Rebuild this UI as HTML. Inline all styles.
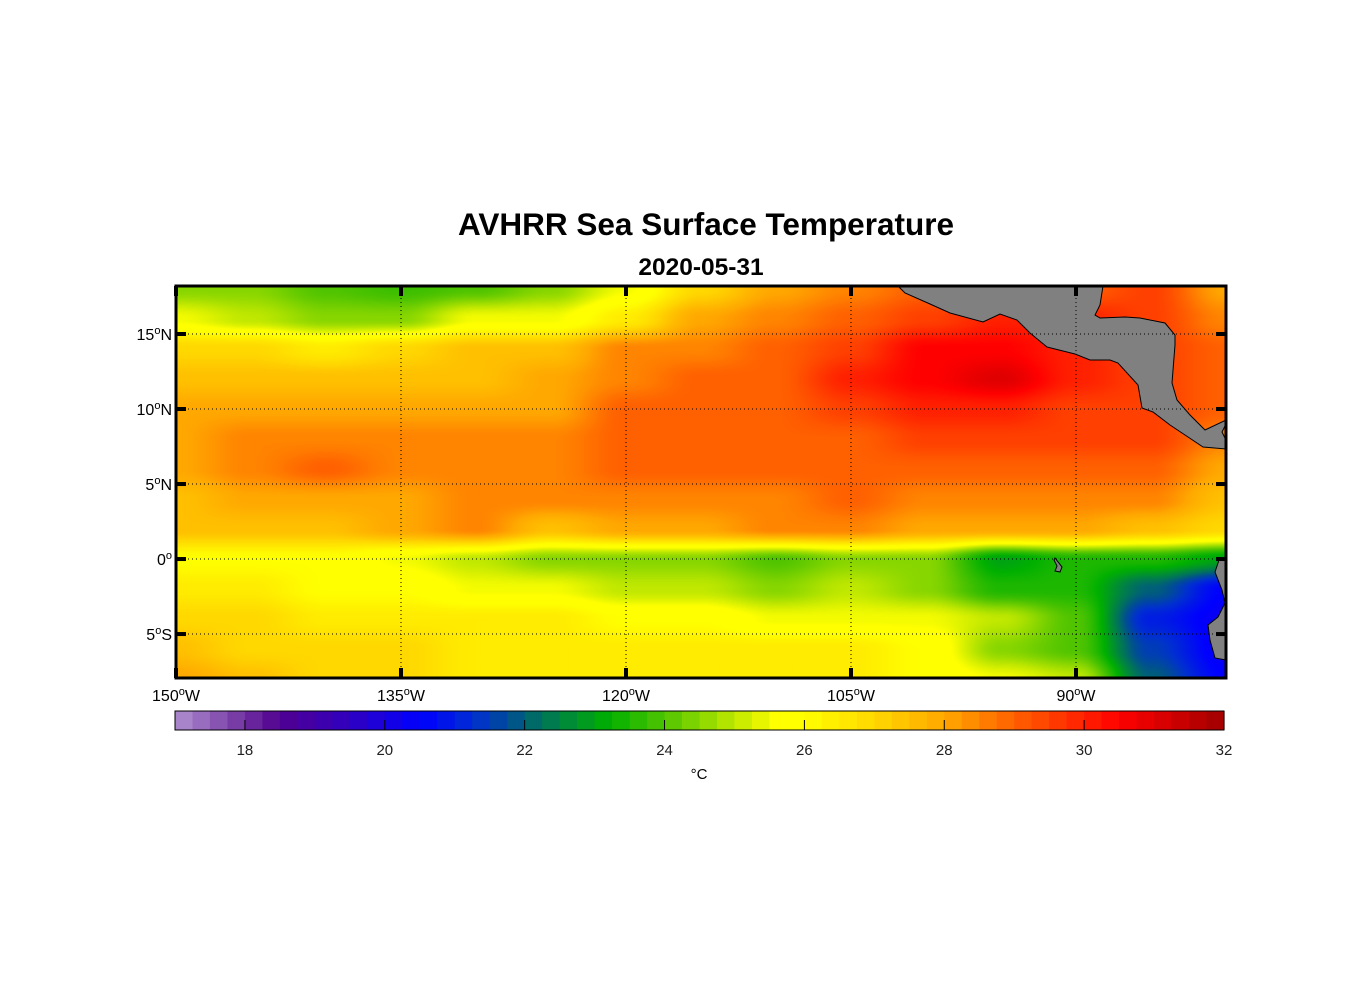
<!DOCTYPE html>
<html><head><meta charset="utf-8">
<style>
html,body{margin:0;padding:0;background:#fff;}
body{width:1356px;height:1000px;position:relative;overflow:hidden;font-family:"Liberation Sans",Arial,sans-serif;}
svg text{font-family:"Liberation Sans",Arial,sans-serif;}
</style></head>
<body>
<svg id="fig" width="1356" height="1000" viewBox="0 0 1356 1000" xmlns="http://www.w3.org/2000/svg">
  <text x="706" y="235" text-anchor="middle" font-size="31.5" font-weight="bold">AVHRR Sea Surface Temperature</text>
  <text x="701" y="275" text-anchor="middle" font-size="24.5" font-weight="bold">2020-05-31</text>
  <foreignObject x="176" y="286" width="1050" height="392"><canvas xmlns="http://www.w3.org/1999/xhtml" id="map" width="1050" height="392" style="display:block"></canvas></foreignObject>
  <g id="land">
    <path fill="#808080" stroke="#000" stroke-width="1" d="M898,286 L905,293 L930,304 L950,313 L983,322 L1000,314 L1017,320 L1030,333 L1047,347 L1075,354 L1090,360 L1110,360 L1118,363 L1138,385 L1142,408 L1153,412 L1170,425 L1188,437 L1203,447 L1226,449 L1226,440 L1222,432 L1226,424 L1226,420 L1205,430 L1190,415 L1177,400 L1172,383 L1175,345 L1175,335 L1165,323 L1140,318 L1125,317 L1100,318 L1095,315 L1100,305 L1103,286 Z"/>
    <path fill="#808080" stroke="#000" stroke-width="1" d="M1226,560 L1219,560 L1215,572 L1222,590 L1225,603 L1218,617 L1208,625 L1210,640 L1215,658 L1226,660 Z"/>
    <path fill="#808080" stroke="#000" stroke-width="1" d="M1055,558 L1062,567 L1060,572 L1055,571 L1057,566 L1054,560 Z"/>
  </g>
  <g id="grid" stroke="#000" stroke-width="1" stroke-dasharray="1,3"></g>
  <rect x="176" y="286" width="1050" height="392" fill="none" stroke="#000" stroke-width="3"/>
  <g id="ticks"></g>
  <g id="cbar"></g>
  <text x="699" y="779" text-anchor="middle" font-size="15">°C</text>
</svg>
<script>
// ---- data ----
const lats = [18,16,14,12,10,8,6,4,2,0,-2,-4,-6,-8];
const lons = [-150,-145,-140,-135,-130,-125,-120,-115,-110,-105,-100,-95,-90,-85,-80];
const sst18 = [24.5,24.5,24,23.8,24,24.5,25.5,27,28,28.5,29,29,29,29.5,28];
const sst16 = [25.5,25,24.5,24.5,25.5,25.5,26.5,28,28.5,29,29.5,30,30,29.5,28.5];
const sst14 = [27,27,26.5,27,27.5,27.5,28.5,28.5,29,29.5,30.5,30.5,30,29.5,29];
const sst12 = [27.5,27.5,27.5,27.5,27.5,28,28.5,29,29,30,30.5,31,30,29.5,29];
const sst10 = [28,28,28,28,28,28,29,29,29,29.5,30,30,29.5,29.5,29];
const sst8 = [28,28.5,28.5,28.5,28.5,28.5,29,29,29,29,29.5,29.5,29.5,29.5,28.5];
const sst6 = [28,28.5,29,28.5,28.5,28.5,29,29,29,29,29,29,29,29,28];
const sst4 = [27.5,28,28,28,28.5,28.5,28.5,28.5,28.5,29,28.5,28.5,28.5,28.5,27.5];
const sst2 = [27.5,27.5,27.5,28,28.5,27.5,28,28,28.5,28.5,28,28,28,27.5,27];
const sst0 = [26,26,26,25.5,25,24.5,24.5,24.5,24,24.5,24.5,23,23.5,23.5,23];
const sstS2 = [26.5,26.5,26,26,25.5,25.5,25,25,24.5,25,24.5,23.5,23.5,22,20.5];
const sstS4 = [27,27,26.5,26.5,26.5,26.5,26,26,25.5,25.5,25.5,25,24,21,20.3];
const sstS6 = [27.5,27,27,27,26.5,26.5,26.5,26.5,26.5,26.5,26,24.5,24,21.5,20.3];
const sstS8 = [28,27.5,27,27,26.5,26.5,26.5,26.5,26.5,26.5,26,25.5,25,22,20.5];
const sstRows = [sst18,sst16,sst14,sst12,sst10,sst8,sst6,sst4,sst2,sst0,sstS2,sstS4,sstS6,sstS8];
const lonTickVals = [-150,-135,-120,-105,-90];
const lonTickLabels = ["150","135","120","105","90"];
const latTickVals = [15,10,5,0,-5];
const latTickLabels = ["15","10","5","0","5"];
const latTickHemi = ["N","N","N","","S"];
const cbarTicks = [18,20,22,24,26,28,30,32];
// colormap stops
const cmapVals = [17,18,18.5,19.5,20.5,21.3,21.8,22.2,22.7,23.2,24,25,25.6,26,27,28,29,30,30.5,31,32];
const cmapCols = ["#b090d0","#7030a0","#500090","#3000c0","#0000ff","#0030d0","#005090","#007060","#009030","#00b000","#50c400","#c0e800","#ffff00","#ffff00","#ffd800","#ffa800","#ff6000","#ff2000","#ff0000","#e00000","#a00000"];

// ---- axes ----
const X0=176,X1=1226,Y0=286,Y1=678, LON0=-150, LON1=-80, LAT0=18.2, LAT1=-7.93;
const xScale = lon => X0 + (lon-LON0)/(LON1-LON0)*(X1-X0);
const yScale = lat => Y0 + (LAT0-lat)/(LAT0-LAT1)*(Y1-Y0);
const C0=175,C1=1224,V0=17,V1=32;
const cScale = v => C0 + (v-V0)/(V1-V0)*(C1-C0);

function hex(h){return [parseInt(h.substr(1,2),16),parseInt(h.substr(3,2),16),parseInt(h.substr(5,2),16)];}
const cmapRGB = cmapCols.map(hex);
function colorOf(v){
  if(v<=cmapVals[0]) return cmapRGB[0];
  for(let i=1;i<cmapVals.length;i++){
    if(v<=cmapVals[i]){const t=(v-cmapVals[i-1])/(cmapVals[i]-cmapVals[i-1]);const a=cmapRGB[i-1],b=cmapRGB[i];
      return [a[0]+(b[0]-a[0])*t,a[1]+(b[1]-a[1])*t,a[2]+(b[2]-a[2])*t];}
  }
  return cmapRGB[cmapRGB.length-1];
}
function sample(lon,lat){
  let fx=(lon-lons[0])/(lons[1]-lons[0]); fx=Math.max(0,Math.min(lons.length-1.001,fx));
  let fy=(lats[0]-lat)/(lats[0]-lats[1]); fy=Math.max(0,Math.min(lats.length-1.001,fy));
  const i=Math.floor(fx),j=Math.floor(fy),tx=fx-i,ty=fy-j;
  const s=t=>t*t*(3-2*t);
  const a=sstRows[j][i],b=sstRows[j][i+1],c=sstRows[j+1][i],d=sstRows[j+1][i+1];
  const u=s(tx),w=s(ty);
  return (a*(1-u)+b*u)*(1-w)+(c*(1-u)+d*u)*w;
}
// heatmap
const cv=document.getElementById('map'),ctx=cv.getContext('2d');
const W=cv.width,H=cv.height,img=ctx.createImageData(W,H);
for(let py=0;py<H;py++){
  const lat=LAT0-(py+0.5)/(Y1-Y0)*(LAT0-LAT1);
  for(let px=0;px<W;px++){
    const lon=LON0+(px+0.5)/(X1-X0)*(LON1-LON0);
    const c=colorOf(sample(lon,lat));const k=(py*W+px)*4;
    img.data[k]=c[0];img.data[k+1]=c[1];img.data[k+2]=c[2];img.data[k+3]=255;
  }
}
ctx.putImageData(img,0,0);

const NS='http://www.w3.org/2000/svg';
function mk(tag,attrs,parent){const e=document.createElementNS(NS,tag);for(const k in attrs)e.setAttribute(k,attrs[k]);parent.appendChild(e);return e;}
const grid=document.getElementById('grid'),ticks=document.getElementById('ticks'),fig=document.getElementById('fig');
lonTickVals.forEach((v,i)=>{
  const x=xScale(v);
  if(i>0){const g=mk('line',{x1:x,y1:Y0,x2:x,y2:Y1},grid);
    
    }
  const t1=mk('line',{x1:x,y1:Y0,x2:x,y2:Y0+10,stroke:'#000','stroke-width':4},ticks);
  
  
  const t2=mk('line',{x1:x,y1:Y1,x2:x,y2:Y1-10,stroke:'#000','stroke-width':4},ticks);
  
  
  const tx=mk('text',{x:x,y:Y1+23,'text-anchor':'middle','font-size':16},fig);
  
  
  tx.innerHTML=lonTickLabels[i]+'<tspan dy="-6" font-size="11">o</tspan><tspan dy="6">W</tspan>';
});
latTickVals.forEach((v,i)=>{
  const y=yScale(v);
  const g=mk('line',{x1:X0,y1:y,x2:X1,y2:y},grid);
  
  
  const t1=mk('line',{x1:X0,y1:y,x2:X0+10,y2:y,stroke:'#000','stroke-width':4},ticks);
  
  
  const t2=mk('line',{x1:X1,y1:y,x2:X1-10,y2:y,stroke:'#000','stroke-width':4},ticks);
  
  
  const tx=mk('text',{x:X0-4,y:y+6,'text-anchor':'end','font-size':16},fig);
  
  
  tx.innerHTML=latTickLabels[i]+'<tspan dy="-6" font-size="11">o</tspan><tspan dy="6">'+latTickHemi[i]+'</tspan>';
});
// colorbar
const cb=document.getElementById('cbar');
const steps=60;
for(let s=0;s<steps;s++){
  const v0=V0+(V1-V0)*s/steps,v1=V0+(V1-V0)*(s+1)/steps;
  const c=colorOf((v0+v1)/2);
  const r=mk('rect',{x:cScale(v0),y:711,width:cScale(v1)-cScale(v0)+0.6,height:19,fill:'rgb('+c.map(Math.round).join(',')+')'},cb);
  
  
}
const fr=mk('rect',{x:C0,y:711,width:C1-C0,height:19,fill:'none',stroke:'#000','stroke-width':1},cb);


cbarTicks.forEach(v=>{
  const x=cScale(v);
  const l=mk('line',{x1:x,y1:720,x2:x,y2:730,stroke:'#000','stroke-width':1},cb);
  
  
  const t=mk('text',{x:x,y:755,'text-anchor':'middle','font-size':15,fill:'#222'},cb);
  
  
  t.textContent=v;
});
</script>
</body></html>
